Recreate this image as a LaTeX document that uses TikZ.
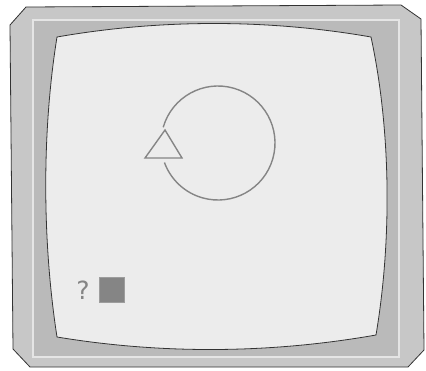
\documentclass[tikz,border=0pt]{standalone}
\usepackage{fontspec}
\setmainfont{DejaVu Sans}
\usetikzlibrary{positioning}

\definecolor{bezelout}{gray}{0.78}
\definecolor{bezelin}{gray}{0.73}
\definecolor{bevel}{gray}{0.9}
\definecolor{screen}{gray}{0.925}
\definecolor{ink}{gray}{0.52}
\definecolor{edge}{gray}{0.2}

\begin{document}
\begin{tikzpicture}[
  x=1pt, y=-1pt,
  frame/.style={draw=edge, line width=0.8pt, fill=bezelout, line join=round},
  glass/.style={draw=edge, line width=0.8pt, fill=screen},
  sym/.style={draw=ink, line width=1.4pt},
  hint/.style={font=\fontsize{25}{25}\selectfont, text=ink, inner sep=0pt}
]
\useasboundingbox (0,0) rectangle (426,370);

% Monitor housing
\draw[frame] (26,7) -- (401,5) -- (421,19) -- (424,350) -- (408,367)
  -- (30,367) -- (13,349) -- (10,25) -- cycle;
\fill[bezelin] (33,20) rectangle (399,357);
\draw[bevel, line width=1.4pt] (33,20) rectangle (399,357);

% Screen
\draw[glass] (57,37) .. controls (160,19) and (268,19) .. (371,37)
  .. controls (391,130) and (392,240) .. (376,335)
  .. controls (268,354) and (160,354) .. (57,337)
  .. controls (42,240) and (42,130) .. cycle;

% Rotation symbol
\draw[sym] (218,143) ++(-164:57) arc[start angle=-164, end angle=160, radius=57];
\draw[sym, line join=miter] (165,130) -- (182,158) -- (145,158) -- cycle;

% Prompt
\node[hint] (ask) at (83,290) {?};
\node[fill=ink, draw=ink!80, minimum size=25pt, inner sep=0pt, right=9pt of ask] (box) {};
\end{tikzpicture}
\end{document}
